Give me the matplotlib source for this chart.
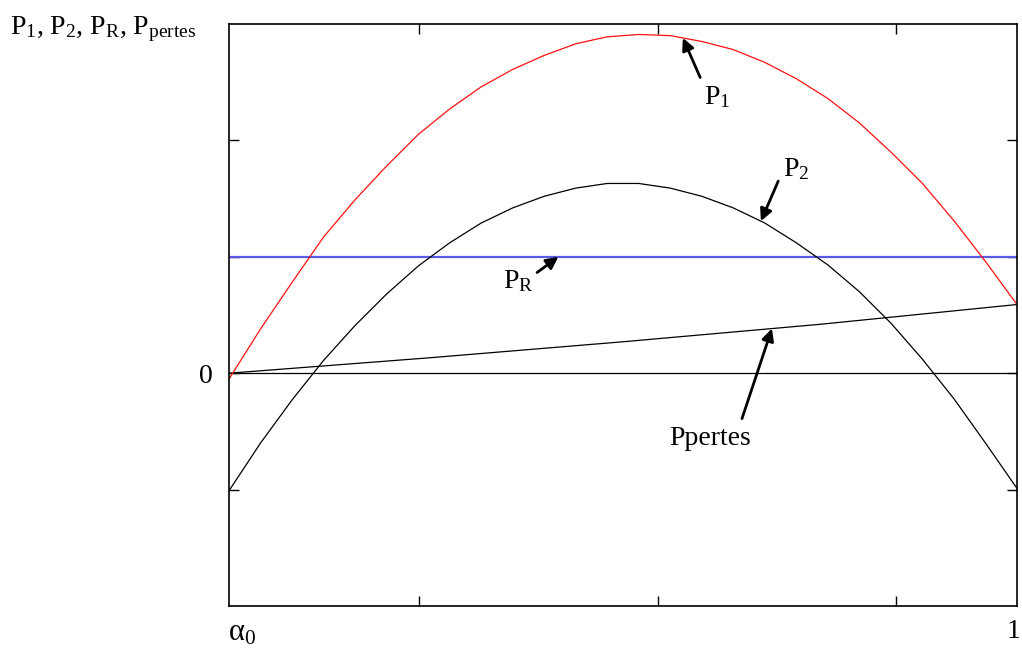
import matplotlib
matplotlib.use("Agg")
import matplotlib.pyplot as plt
import numpy as np

plt.rcParams['font.family'] = ['Liberation Serif', 'DejaVu Serif']
plt.rcParams['mathtext.fontset'] = 'custom'
plt.rcParams['mathtext.rm'] = 'Liberation Serif'
plt.rcParams['mathtext.it'] = 'Liberation Serif:italic'

# abscisse commune : alpha de alpha0 (0) a 1
alpha = [0.00, 0.04, 0.08, 0.12, 0.16, 0.20, 0.24, 0.28, 0.32, 0.36,
         0.40, 0.44, 0.48, 0.52, 0.56, 0.60, 0.64, 0.68, 0.72, 0.76,
         0.80, 0.84, 0.88, 0.92, 0.96, 1.00]

# puissance d'entree P1
p1 = [-0.05, 0.38, 0.78, 1.17, 1.49, 1.78, 2.05, 2.27, 2.46, 2.61,
      2.73, 2.83, 2.89, 2.91, 2.90, 2.85, 2.78, 2.67, 2.53, 2.36,
      2.15, 1.90, 1.63, 1.31, 0.96, 0.59]

# puissance de sortie P2
p2 = [-1.01, -0.60, -0.23, 0.11, 0.41, 0.68, 0.92, 1.12, 1.29, 1.42,
      1.52, 1.59, 1.63, 1.63, 1.59, 1.52, 1.42, 1.29, 1.12, 0.93,
      0.70, 0.43, 0.12, -0.22, -0.60, -0.99]

# puissance de reference PR
alpha_pr = [0.0, 1.0]
pr = [1.0, 1.0]

# pertes
alpha_pp = [0.0, 0.25, 0.5, 0.75, 1.0]
ppertes = [0.0, 0.13, 0.27, 0.42, 0.59]

y_ticks = [-1, 0, 1, 2]
x_ticks = [0.241, 0.544, 0.846]

fig = plt.figure(figsize=(10.22, 6.5), dpi=100)
ax = fig.add_axes([229 / 1022, 44 / 650, 788 / 1022, 582 / 650])

ax.axhline(0, color='black', lw=0.9)
ax.plot(alpha_pr, pr, color='#5a5ae6', lw=1.6)
ax.plot(alpha_pp, ppertes, color='black', lw=0.9)
ax.plot(alpha, p2, color='black', lw=0.9)
ax.plot(alpha, p1, color='#ff1010', lw=0.9)

ax.set_xlim(0, 1)
ax.set_ylim(-2, 3)
ax.set_xticks(x_ticks)
ax.set_xticklabels([])
ax.set_yticks(y_ticks)
ax.set_yticklabels(['' if v != 0 else '0' for v in y_ticks], fontsize=20)
ax.tick_params(direction='in', length=7, width=1, top=True, right=True, pad=12)
for s in ax.spines.values():
    s.set_linewidth(1.2)

xform = ax.get_xaxis_transform()
ax.text(0.016, -0.022, 'α$_0$', transform=xform, ha='center', va='top', fontsize=22)
ax.text(0.996, -0.022, '1', transform=xform, ha='center', va='top', fontsize=20)

fig.text(10 / 1022, 1 - 34 / 650, r'P$_1$, P$_2$, P$_\mathrm{R}$, P$_\mathrm{pertes}$',
         ha='left', va='baseline', fontsize=20)

arrow = dict(arrowstyle='-|>', lw=2, color='black', mutation_scale=18, shrinkA=0, shrinkB=0)


def label_curve(name, xs, ys, x_tip, tail, text_xy):
    tip = (x_tip, np.interp(x_tip, xs, ys))
    ax.annotate('', xy=tip, xytext=tail, arrowprops=arrow)
    ax.text(text_xy[0], text_xy[1], name, ha='center', va='center', fontsize=20)


label_curve(r'P$_1$', alpha, p1, 0.576, (0.598, 2.54), (0.62, 2.37))
label_curve(r'P$_2$', alpha, p2, 0.675, (0.697, 1.65), (0.72, 1.75))
label_curve(r'P$_\mathrm{R}$', alpha_pr, pr, 0.418, (0.391, 0.865), (0.367, 0.79))
label_curve('Ppertes', alpha_pp, ppertes, 0.689, (0.651, -0.39), (0.61, -0.56))

fig.savefig('out.png', dpi=100)
